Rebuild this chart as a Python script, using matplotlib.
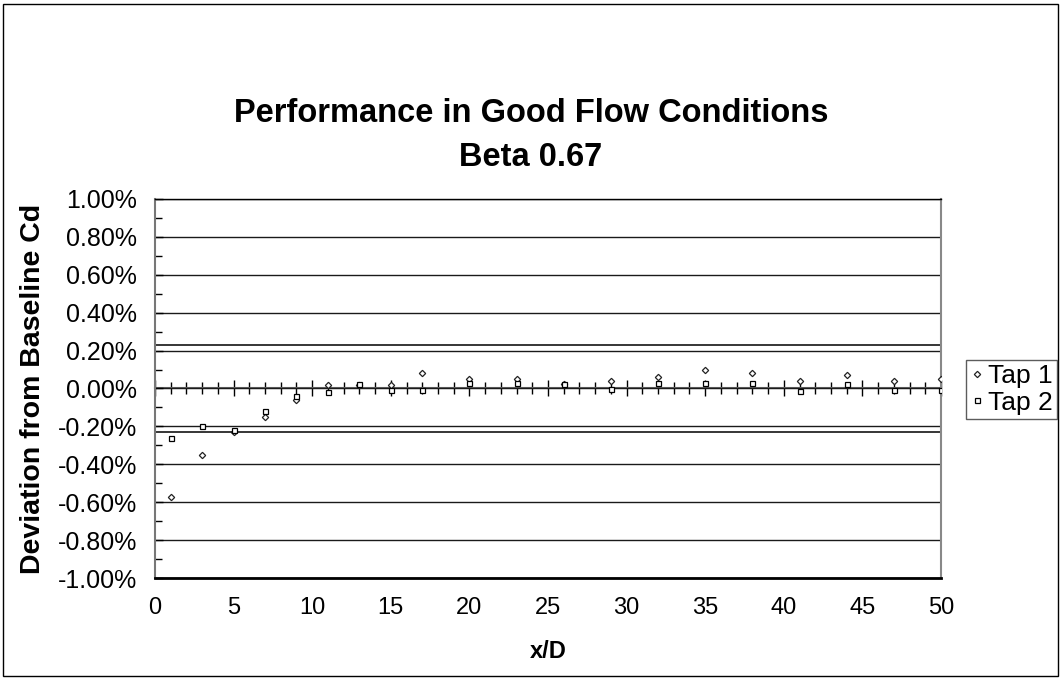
import matplotlib
matplotlib.use("Agg")
import matplotlib.pyplot as plt
from matplotlib.ticker import MultipleLocator, FuncFormatter, NullFormatter
from matplotlib.patches import Rectangle

# ---- data (x/D positions, deviation in %) ----
x_pos = [1, 3, 5, 7, 9, 11, 13, 15, 17, 20, 23, 26, 29, 32, 35, 38, 41, 44, 47, 50]
tap1 = [-0.57, -0.35, -0.23, -0.15, -0.06, 0.02, 0.02, 0.02, 0.08, 0.05,
        0.05, 0.025, 0.04, 0.06, 0.10, 0.08, 0.04, 0.07, 0.04, 0.05]
tap2 = [-0.26, -0.20, -0.22, -0.12, -0.04, -0.02, 0.023, -0.01, -0.01, 0.03,
        0.03, 0.025, 0.00, 0.03, 0.03, 0.03, -0.015, 0.025, -0.01, -0.01]
limit_x = [0, 50]
upper_limit = [0.23, 0.23]
lower_limit = [-0.23, -0.23]

title_line1 = "Performance in Good Flow Conditions"
title_line2 = "Beta 0.67"
ylabel = "Deviation from Baseline Cd"
xlabel = "x/D"
series_names = ["Tap 1", "Tap 2"]

plt.rcParams['font.family'] = ['Liberation Sans', 'DejaVu Sans']

W, H = 1061, 680
fig = plt.figure(figsize=(W / 100, H / 100), dpi=100)
ax = fig.add_axes([155 / W, 1 - 578 / H, (941 - 155) / W, (578 - 199) / H])

# reference limit lines
ax.plot(limit_x, upper_limit, color='black', lw=1.1, zorder=2)
ax.plot(limit_x, lower_limit, color='black', lw=1.1, zorder=2)

# data
ax.plot(x_pos, tap1, linestyle='none', marker='D', markersize=3.2,
        markerfacecolor='white', markeredgecolor='#222222', markeredgewidth=0.9,
        label=series_names[0], zorder=5)
ax.plot(x_pos, tap2, linestyle='none', marker='s', markersize=3.6,
        markerfacecolor='white', markeredgecolor='black', markeredgewidth=0.9,
        label=series_names[1], zorder=5)

ax.set_xlim(0, 50)
ax.set_ylim(-1.0, 1.0)

# y axis
ax.yaxis.set_major_locator(MultipleLocator(0.2))
ax.yaxis.set_minor_locator(MultipleLocator(0.1))
ax.yaxis.set_major_formatter(FuncFormatter(lambda v, p: f"{v:.2f}%" if abs(v) > 1e-9 else "0.00%"))
ax.tick_params(axis='y', which='both', direction='in', left=True, right=False,
               labelsize=18, pad=13, colors='black')
ax.tick_params(axis='y', which='major', length=6, width=1)
ax.tick_params(axis='y', which='minor', length=5, width=1)
ax.grid(axis='y', which='major', color='#1a1a1a', lw=1.0)
ax.set_axisbelow(True)

# x axis (labels at bottom, no ticks)
ax.xaxis.set_major_locator(MultipleLocator(5))
ax.tick_params(axis='x', which='both', length=0, pad=14, labelsize=17)

# spines
ax.spines['left'].set_color('#777777')
ax.spines['left'].set_linewidth(1.5)
ax.spines['right'].set_color('#888888')
ax.spines['right'].set_linewidth(1.5)
ax.spines['top'].set_color('black')
ax.spines['top'].set_linewidth(1.0)
ax.spines['bottom'].set_color('black')
ax.spines['bottom'].set_linewidth(2.0)

# zero axis with crossing ticks (no labels)
sec = ax.secondary_xaxis(0.5)
for sp in sec.spines.values():
    sp.set_color('#666666')
    sp.set_linewidth(1.5)
sec.xaxis.set_major_locator(MultipleLocator(5))
sec.xaxis.set_minor_locator(MultipleLocator(1))
sec.xaxis.set_major_formatter(NullFormatter())
sec.xaxis.set_minor_formatter(NullFormatter())
sec.tick_params(axis='x', which='both', direction='inout', labeltop=False,
                labelbottom=False, colors='black')
sec.tick_params(axis='x', which='major', length=11, width=1.0)
sec.tick_params(axis='x', which='minor', length=9, width=1.0)

# labels
ax.set_ylabel(ylabel, fontsize=20.5, fontweight='bold')
ax.yaxis.set_label_coords(-0.155, 0.5)
ax.yaxis.label.set_va('center')
ax.set_xlabel(xlabel, fontsize=17, fontweight='bold')
ax.xaxis.set_label_coords(0.5, -0.195)
ax.xaxis.label.set_va('center')

fig.text(531 / W, 1 - 113 / H, title_line1, ha='center', va='center',
         fontsize=23.5, fontweight='bold')
fig.text(531 / W, 1 - 157 / H, title_line2, ha='center', va='center',
         fontsize=23.5, fontweight='bold')

# legend
leg = fig.legend(loc='upper left', bbox_to_anchor=(966 / W, 1 - 360 / H),
                 fontsize=19, frameon=True, fancybox=False, borderpad=0.15,
                 handlelength=0.5, handletextpad=0.2, labelspacing=0.1,
                 borderaxespad=0, markerscale=1.0)
leg.get_frame().set_edgecolor('#333333')
leg.get_frame().set_linewidth(1.0)

# outer frame
fig.patches.append(Rectangle((3 / W, 4 / H), (1058 - 3) / W, (676 - 4) / H,
                             transform=fig.transFigure, fill=False,
                             edgecolor='black', lw=1.0, zorder=0))

fig.savefig('out.png', dpi=100)
